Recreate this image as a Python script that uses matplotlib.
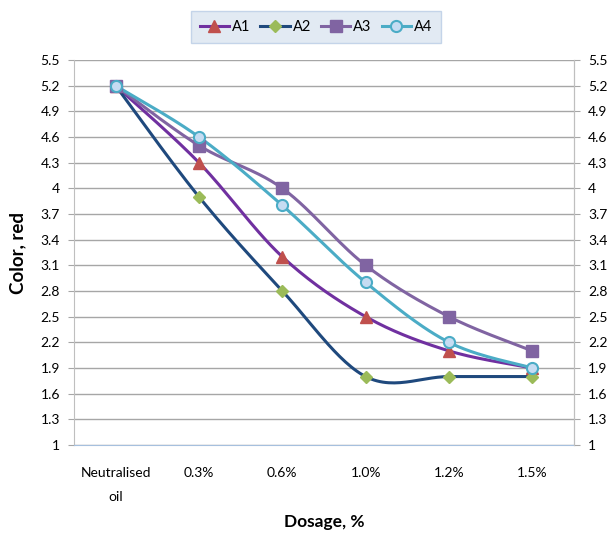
import numpy as np
import matplotlib
matplotlib.use("Agg")
import matplotlib.pyplot as plt
from matplotlib.lines import Line2D

categories = ["Neutralised\noil", "0.3%", "0.6%", "1.0%", "1.2%", "1.5%"]
a1 = [5.2, 4.3, 3.2, 2.5, 2.1, 1.9]
a2 = [5.2, 3.9, 2.8, 1.8, 1.8, 1.8]
a3 = [5.2, 4.5, 4.0, 3.1, 2.5, 2.1]
a4 = [5.2, 4.6, 3.8, 2.9, 2.2, 1.9]
yticks = [1, 1.3, 1.6, 1.9, 2.2, 2.5, 2.8, 3.1, 3.4, 3.7, 4, 4.3, 4.6, 4.9, 5.2, 5.5]

plt.rcParams['font.family'] = ['Lato', 'DejaVu Sans']

def smooth(x, y, n=30):
    x = np.asarray(x, float); y = np.asarray(y, float)
    px = np.concatenate([[x[0]], x, [x[-1]]])
    py = np.concatenate([[y[0]], y, [y[-1]]])
    xs, ys = [], []
    for i in range(1, len(px) - 2):
        p0 = np.array([px[i], py[i]]); p3 = np.array([px[i+1], py[i+1]])
        c1 = p0 + (np.array([px[i+1], py[i+1]]) - np.array([px[i-1], py[i-1]])) / 6
        c2 = p3 - (np.array([px[i+2], py[i+2]]) - np.array([px[i], py[i]])) / 6
        t = np.linspace(0, 1, n)[:, None]
        b = (1-t)**3*p0 + 3*(1-t)**2*t*c1 + 3*(1-t)*t**2*c2 + t**3*p3
        xs.extend(b[:, 0]); ys.extend(b[:, 1])
    return np.array(xs), np.array(ys)

fig = plt.figure(figsize=(6.1, 5.43), dpi=100)
ax = fig.add_axes([74/610, 1-445/543, 500/610, 385/543])
x = np.arange(len(categories))

series = [
    ("A1", a1, "#7030a0", dict(marker="^", mfc="#c0504d", mec="#c0504d", ms=8)),
    ("A2", a2, "#1f497d", dict(marker="D", mfc="#9bbb59", mec="#9bbb59", ms=6)),
    ("A3", a3, "#8064a2", dict(marker="s", mfc="#8064a2", mec="#8064a2", ms=8)),
    ("A4", a4, "#4bacc6", dict(marker="o", mfc="#c6dcf2", mec="#4bacc6", ms=8, mew=1.5)),
]
handles = []
for name, vals, col, mk in series:
    sx, sy = smooth(x, vals)
    ax.plot(sx, sy, color=col, lw=2.2, zorder=3)
    ax.plot(x, vals, ls="none", zorder=4, **mk)
    handles.append(Line2D([], [], color=col, lw=2.2, **mk))

ax.set_xlim(-0.5, len(categories) - 0.5)
ax.set_ylim(1, 5.5)
ax.set_yticks(yticks)
ax.set_yticklabels([f"{v:g}" for v in yticks])
ax.set_xticks(x)
ax.set_xticklabels(categories, linespacing=2.2)
ax.grid(axis="y", color="#a6a6a6", lw=1)
ax.set_axisbelow(True)
ax.spines["top"].set_visible(False)
for s in ["left", "right"]:
    ax.spines[s].set_color("#bfbfbf")
ax.spines["bottom"].set_color("#a6c0de")
ax.tick_params(axis="y", length=4, color="#a6a6a6", labelsize=10, pad=6)
ax.tick_params(axis="x", length=0, labelsize=10, pad=16)

ax2 = ax.twinx()
ax2.set_ylim(1, 5.5)
ax2.set_yticks(yticks)
ax2.set_yticklabels([f"{v:g}" for v in yticks])
ax2.tick_params(axis="y", length=4, color="#a6a6a6", labelsize=10, pad=6)
for s in ["top", "left", "bottom"]:
    ax2.spines[s].set_visible(False)
ax2.spines["right"].set_color("#bfbfbf")

ax.set_ylabel("Color, red", fontsize=13.5, fontweight="bold")
ax.yaxis.set_label_coords((18 - 74) / 500, 0.5)
ax.set_xlabel("Dosage, %", fontsize=12.5, fontweight="bold")
ax.xaxis.set_label_coords(0.5, (445 - 522) / 385, transform=None) if False else ax.xaxis.set_label_coords(0.5, -(522 - 445) / 385)
ax.xaxis.label.set_va("center")
ax.yaxis.label.set_va("center")

leg = fig.legend(handles, ["A1", "A2", "A3", "A4"], loc="center",
                 bbox_to_anchor=(316/610, 1-27/543), ncol=4, frameon=True,
                 fontsize=10.5, handlelength=2.0, columnspacing=0.7, handletextpad=0.2,
                 fancybox=False, borderpad=0.6, borderaxespad=0)
leg.get_frame().set_facecolor("#dbe5f1")
leg.get_frame().set_edgecolor("#b9cde5")

fig.savefig("out.png", dpi=100)
